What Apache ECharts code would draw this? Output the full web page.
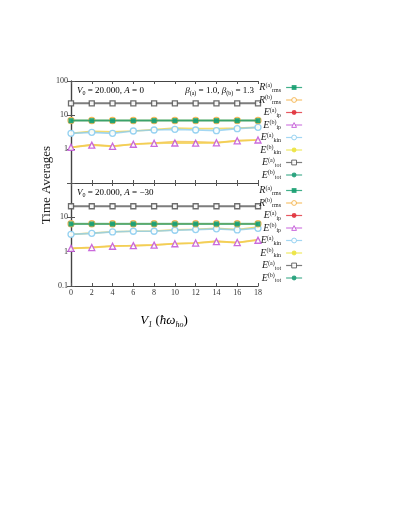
<!DOCTYPE html>
<html>
<head>
<meta charset="utf-8">
<script src="https://cdn.jsdelivr.net/npm/echarts@6/dist/echarts.min.js"></script>
<style>
  html, body { margin: 0; padding: 0; background: #fff; }
  #chart { width: 409px; height: 529px; }
</style>
</head>
<body>
<div id="chart"></div>
<script>
// x values (V1)
const v1 = [0, 2, 4, 6, 8, 10, 12, 14, 16, 18];

// top panel: A = 0
const rmsA_top = [6.8, 6.8, 6.8, 6.8, 6.8, 6.8, 6.8, 6.8, 6.8, 6.8];
const rmsB_top = [6.9, 6.9, 6.9, 6.9, 6.9, 6.9, 6.9, 6.9, 6.9, 6.9];
const ipA_top = [1.12, 1.34, 1.22, 1.4, 1.5, 1.64, 1.62, 1.55, 1.76, 1.84];
const ipB_top = [1.12, 1.3, 1.2, 1.38, 1.47, 1.5, 1.48, 1.52, 1.74, 1.84];
const kinA_top = [2.89, 3.09, 2.89, 3.38, 3.62, 3.79, 3.62, 3.46, 3.96, 4.34];
const kinB_top = [2.89, 3.3, 3.2, 3.38, 3.7, 4.15, 3.96, 3.96, 4.1, 4.34];
const totA_top = [22, 22, 22, 22, 22, 22, 22, 22, 22, 22];
const totB_top = [7.0, 7.0, 7.0, 7.0, 7.0, 7.0, 7.0, 7.0, 7.0, 7.0];

// bottom panel: A = -30
const rmsA_bot = [6.4, 6.4, 6.4, 6.4, 6.4, 6.4, 6.4, 6.4, 6.4, 6.4];
const rmsB_bot = [6.5, 6.5, 6.5, 6.5, 6.5, 6.5, 6.5, 6.5, 6.5, 6.5];
const ipA_bot = [1.25, 1.34, 1.47, 1.5, 1.57, 1.71, 1.79, 2.02, 1.84, 2.26];
const ipB_bot = [1.25, 1.32, 1.44, 1.5, 1.55, 1.7, 1.78, 1.95, 1.84, 2.15];
const kinA_bot = [3.2, 3.42, 3.75, 3.93, 3.93, 4.21, 4.41, 4.63, 4.3, 4.8];
const kinB_bot = [3.2, 3.45, 3.8, 3.93, 4.0, 4.3, 4.5, 4.75, 4.4, 5.2];
const totA_bot = [21, 21, 21, 21, 21, 21, 21, 21, 21, 21];
const totB_bot = [6.6, 6.6, 6.6, 6.6, 6.6, 6.6, 6.6, 6.6, 6.6, 6.6];

const serif = 'Liberation Serif';

// [key, legend label, marker, size, marker colour, filled, line colour, legend line colour]
const looks = [
  ['rmsA', '{i|R}{sp|(a)}{sb|rms}', 'rect', 5, '#139c6e', true, '#139c6e', '#139c6e'],
  ['rmsB', '{i|R}{sp|(b)}{sb|rms}', 'circle', 6, '#f4b34a', false, '#f4b34a', '#f4b34a'],
  ['ipA', '{i|E}{sp|(a)}{sb|ip}', 'circle', 2.5, '#e0303a', true, '#f1c04a', '#e0303a'],
  ['ipB', '{i|E}{sp|(b)}{sb|ip}', 'triangle', 6, '#c45ad8', false, '#f3d04e', '#c45ad8'],
  ['kinA', '{i|E}{sp|(a)}{sb|kin}', 'circle', 6, '#8ccdf0', false, '#8ccdf0', '#8ccdf0'],
  ['kinB', '{i|E}{sp|(b)}{sb|kin}', 'circle', 2.5, '#ece33f', true, '#f1d24a', '#ece33f'],
  ['totA', '{i|E}{sp|(a)}{sb|tot}', 'rect', 5, '#5c5c5c', false, '#5c5c5c', '#5c5c5c'],
  ['totB', '{i|E}{sp|(b)}{sb|tot}', 'circle', 2.5, '#1f9e78', true, '#52c7a3', '#1f9e78']
];

const panelData = [
  { rmsA: rmsA_top, rmsB: rmsB_top, ipA: ipA_top, ipB: ipB_top, kinA: kinA_top, kinB: kinB_top, totA: totA_top, totB: totB_top },
  { rmsA: rmsA_bot, rmsB: rmsB_bot, ipA: ipA_bot, ipB: ipB_bot, kinA: kinA_bot, kinB: kinB_bot, totA: totA_bot, totB: totB_bot }
];

const labelMap = {};
looks.forEach(l => { labelMap[l[0]] = l[1]; });

// draw order so the overlapping lines stack like the figure
const drawOrder = ['totA', 'ipA', 'ipB', 'kinB', 'kinA', 'totB', 'rmsB', 'rmsA'];

const series = [];
[0, 1].forEach(p => {
  drawOrder.forEach((key, k) => {
    const l = looks.find(x => x[0] === key);
    series.push({
      name: key,
      type: 'line',
      xAxisIndex: p * 2,
      yAxisIndex: p * 2,
      data: v1.map((x, i) => [x, panelData[p][key][i]]),
      symbol: l[2],
      symbolSize: l[3],
      showAllSymbol: true,
      z: 2 + k,
      itemStyle: {
        color: l[5] ? l[4] : '#ffffff',
        borderColor: l[4],
        borderWidth: l[5] ? 0 : 1.3,
        opacity: 0.9
      },
      lineStyle: { color: l[6], width: key === 'totA' ? 2 : 1.7, opacity: 0.8 },
      emphasis: { disabled: true },
      animation: false
    });
  });
});

const richLegend = {
  i: { fontFamily: serif, fontStyle: 'italic', fontSize: 10, color: '#222', lineHeight: 11 },
  sp: { fontFamily: serif, fontSize: 6, color: '#222', lineHeight: 11, verticalAlign: 'top' },
  sb: { fontFamily: serif, fontSize: 6, color: '#222', lineHeight: 11, verticalAlign: 'bottom' }
};

function makeLegend(top) {
  return {
    orient: 'vertical',
    left: 259,
    top: top,
    align: 'right',
    itemWidth: 16,
    itemHeight: 6,
    itemGap: 1.5,
    selectedMode: false,
    padding: 0,
    data: looks.map(l => ({
      name: l[0],
      lineStyle: { color: l[7], width: 1.2 },
      itemStyle: { color: l[5] ? l[4] : '#fff', borderColor: l[4], borderWidth: l[5] ? 0 : 1 }
    })),
    formatter: name => labelMap[name],
    textStyle: { rich: richLegend, lineHeight: 11 }
  };
}

function xAxes(grid, showLabels) {
  const base = {
    type: 'value', gridIndex: grid, min: 0, max: 18, interval: 2,
    splitLine: { show: false },
    axisLine: { show: true, onZero: false, lineStyle: { color: '#444', width: 1.2 } },
    axisTick: { show: true, inside: true, length: 3, lineStyle: { color: '#555' } }
  };
  return [
    Object.assign({}, base, {
      position: 'bottom',
      axisLabel: {
        show: showLabels, fontFamily: serif, fontSize: 8, color: '#333', margin: 3
      }
    }),
    Object.assign({}, base, { position: 'top', axisLabel: { show: false } })
  ];
}

function yAxes(grid, hide) {
  const base = {
    type: 'log', logBase: 10, gridIndex: grid, min: 0.1, max: 100,
    splitLine: { show: false },
    axisLine: { show: true, lineStyle: { color: '#444', width: 1.2 } },
    axisTick: { show: true, inside: true, length: 4, lineStyle: { color: '#555' } }
  };
  return [
    Object.assign({}, base, {
      position: 'left',
      axisLabel: {
        fontFamily: serif, fontSize: 8, color: '#333', margin: 3,
        formatter: v => (Math.abs(v - hide) < 1e-9 ? '' : String(v))
      }
    }),
    Object.assign({}, base, { position: 'right', axisLabel: { show: false } })
  ];
}

const mathRich = {
  i: { fontFamily: serif, fontStyle: 'italic', fontSize: 9, color: '#222' },
  r: { fontFamily: serif, fontSize: 9, color: '#222' },
  s: { fontFamily: serif, fontSize: 6, color: '#222', padding: [5, 0, 0, 0] }
};

const option = {
  backgroundColor: '#fff',
  animation: false,
  grid: [
    { left: 71, top: 81, width: 187, height: 102 },
    { left: 71, top: 183, width: 187, height: 103 }
  ],
  xAxis: xAxes(0, false).concat(xAxes(1, true)),
  yAxis: yAxes(0, 0.1).concat(yAxes(1, 100)),
  legend: [makeLegend(82), makeLegend(185)],
  series: series,
  graphic: [
    {
      type: 'text', left: 77, top: 86,
      style: { text: '{i|V}{s|0}{r| = 20.000, }{i|A}{r| = 0}', rich: mathRich }
    },
    {
      type: 'text', right: 409 - 254, top: 86,
      style: { text: '{i|β}{s|(a)}{r| = 1.0, }{i|β}{s|(b)}{r| = 1.3}', rich: mathRich, align: 'right' }
    },
    {
      type: 'text', left: 77, top: 188,
      style: { text: '{i|V}{s|0}{r| = 20.000, }{i|A}{r| = −30}', rich: mathRich }
    },
    {
      type: 'text', x: 47, y: 185, rotation: Math.PI / 2,
      style: {
        text: 'Time Averages', fontFamily: serif, fontSize: 13, fill: '#222',
        align: 'center', verticalAlign: 'middle'
      }
    },
    {
      type: 'text', x: 164, y: 321,
      style: {
        text: '{i|V}{s|1}{r| (}{i|ħω}{s|ho}{r|)}',
        rich: {
          i: { fontFamily: serif, fontStyle: 'italic', fontSize: 13, color: '#222' },
          r: { fontFamily: serif, fontSize: 13, color: '#222' },
          s: { fontFamily: serif, fontStyle: 'italic', fontSize: 8, color: '#222', padding: [7, 0, 0, 0] }
        },
        align: 'center', verticalAlign: 'middle'
      }
    }
  ]
};

const chart = echarts.init(document.getElementById('chart'), null, { renderer: 'canvas' });
chart.setOption(option);
</script>
</body>
</html>
